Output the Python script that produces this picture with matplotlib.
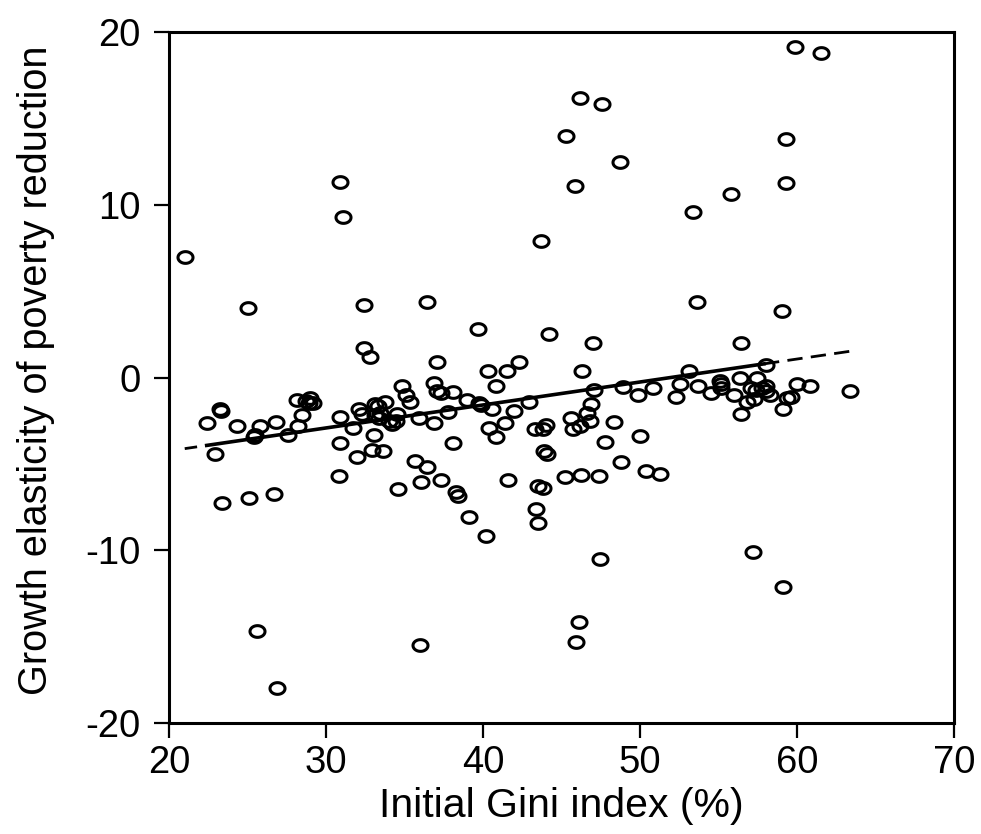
import matplotlib
matplotlib.use("Agg")
import matplotlib.pyplot as plt
import numpy as np
from matplotlib.path import Path

plt.rcParams['font.family'] = ['Liberation Sans', 'DejaVu Sans']
plt.rcParams['axes.unicode_minus'] = False

# initial Gini index (%) and growth elasticity of poverty reduction
gini = [
    21.0, 30.9, 31.1, 25.0, 32.4, 36.4, 43.7, 39.7, 44.2, 32.4, 32.8, 37.1, 40.3, 41.5, 42.3,
    59.85, 61.5, 46.2, 47.6, 45.3, 59.3, 48.7, 45.85, 59.3, 55.8, 53.4, 53.6, 59.05, 47.0,
    56.4, 46.3, 53.1, 58.0,
    25.6, 36.0, 26.85, 23.4, 25.1, 26.7, 30.8, 34.6, 39.1, 40.2, 38.3, 38.4, 43.4, 43.5,
    41.6, 43.5, 43.8, 45.2, 47.45, 57.2, 59.1, 46.1, 45.95, 46.25, 47.4, 50.4, 51.3, 48.8,
    47.8, 50.0, 48.35,
    22.45, 23.25, 23.3, 24.3, 22.9, 25.4, 25.45, 25.8, 26.8, 27.6, 28.2, 28.45, 28.15,
    28.75, 28.95, 29.15, 28.9, 30.9,
    40.8, 34.85, 35.1, 35.35, 36.9, 37.05, 37.35, 38.1, 39.0, 39.75, 39.85, 40.6, 32.1,
    32.3, 33.1, 33.3, 33.75, 33.15, 33.35, 33.45, 34.0, 34.2, 34.45, 34.55, 35.9, 36.85,
    37.75, 31.7, 33.05, 30.9, 32.95, 33.6, 32.0, 38.1, 40.4, 40.8, 35.65, 36.45, 36.05, 37.3,
    41.95, 42.9, 41.4, 43.3, 43.8, 44.0, 43.9, 44.05, 45.6, 45.7, 46.15, 46.6, 46.8, 46.85,
    47.05, 48.9, 49.85, 50.8,
    52.55, 52.3, 53.7, 54.5, 55.1, 55.15, 55.15, 56.0, 56.35, 56.45, 56.8, 57.05, 57.25,
    57.45, 57.4, 57.75, 58.0, 58.25, 58.05, 59.1, 59.35, 59.6, 60.0, 60.8, 63.4,
]
elasticity = [
    7.0, 11.3, 9.3, 4.0, 4.2, 4.35, 7.9, 2.8, 2.5, 1.7, 1.2, 0.9, 0.4, 0.4, 0.9,
    19.15, 18.8, 16.2, 15.85, 14.0, 13.8, 12.5, 11.1, 11.25, 10.6, 9.6, 4.4, 3.85, 2.0,
    2.0, 0.4, 0.4, 0.75,
    -14.7, -15.5, -17.95, -7.25, -7.0, -6.75, -5.7, -6.45, -8.05, -9.15, -6.65, -6.85, -7.6, -8.4,
    -5.95, -6.3, -6.4, -5.75, -10.5, -10.1, -12.15, -14.15, -15.3, -5.65, -5.7, -5.4, -5.6, -4.9,
    -3.75, -3.4, -2.55,
    -2.65, -1.85, -1.95, -2.8, -4.45, -3.45, -3.3, -2.8, -2.6, -3.3, -2.8, -2.15, -1.3,
    -1.35, -1.2, -1.5, -1.45, -2.3,
    -0.5, -0.5, -1.0, -1.4, -0.3, -0.8, -0.9, -0.85, -1.3, -1.5, -1.6, -1.8, -1.8,
    -2.1, -1.55, -1.65, -1.4, -2.15, -2.35, -2.05, -2.5, -2.7, -2.5, -2.1, -2.35, -2.65,
    -2.0, -2.95, -3.3, -3.8, -4.2, -4.25, -4.6, -3.8, -2.9, -3.45, -4.85, -5.2, -6.05, -5.95,
    -1.95, -1.4, -2.65, -3.0, -3.0, -2.75, -4.25, -4.45, -2.35, -3.0, -2.8, -2.05, -2.5, -1.55,
    -0.7, -0.55, -1.0, -0.6,
    -0.4, -1.1, -0.5, -0.9, -0.2, -0.4, -0.6, -1.0, -0.05, -2.1, -1.4, -0.6, -1.25,
    -0.05, -0.7, -0.6, -0.5, -1.0, -0.8, -1.8, -1.2, -1.15, -0.35, -0.5, -0.8,
]

# fitted line (intercept, slope) and the x range it covers
fit_intercept = -6.91
fit_slope = 0.133
fit_x_dashed_left = [21.0, 22.4]
fit_x_solid = [22.4, 57.9]
fit_x_dashed_right = [57.9, 63.5]

xticks = [20, 30, 40, 50, 60, 70]
yticks = [-20, -10, 0, 10, 20]

# open circles are slightly flattened in the original
t = np.linspace(0, 2 * np.pi, 60)
ellipse = Path(np.column_stack([np.cos(t), 0.78 * np.sin(t)]), closed=True)

fig = plt.figure(figsize=(9.81, 8.34), dpi=100)
ax = fig.add_axes([0.1723, 0.1331, 0.8002, 0.8285])

ax.plot(gini, elasticity, linestyle='none', marker=ellipse, markersize=10.8,
        markerfacecolor='none', markeredgecolor='black', markeredgewidth=2.2, zorder=2)

def fit(xs):
    xs = np.array(xs)
    return fit_intercept + fit_slope * xs

ax.plot(fit_x_solid, fit(fit_x_solid), color='black', lw=2.6, zorder=3)
ax.plot(fit_x_dashed_left, fit(fit_x_dashed_left), color='black', lw=2.0,
        dashes=(4.5, 3), zorder=3)
ax.plot(fit_x_dashed_right, fit(fit_x_dashed_right), color='black', lw=2.0,
        dashes=(5.5, 3), zorder=3)

ax.set_xlim(20, 70)
ax.set_ylim(-20, 20)
ax.set_xticks(xticks)
ax.set_yticks(yticks)
ax.set_xticklabels([str(v) for v in xticks])
ax.set_yticklabels([str(v) for v in yticks])

for s in ax.spines.values():
    s.set_linewidth(2.2)
ax.tick_params(direction='out', length=10.5, width=1.6, labelsize=27.5,
               top=False, right=False)
ax.tick_params(axis='x', pad=5)
ax.tick_params(axis='y', pad=10)

ax.set_xlabel('Initial Gini index (%)', fontsize=29.5)
ax.set_ylabel('Growth elasticity of poverty reduction', fontsize=28.5)
ax.xaxis.set_label_coords(0.5, -0.092)
ax.yaxis.set_label_coords(-0.1447, 0.51)

fig.savefig('out.png', dpi=100)
